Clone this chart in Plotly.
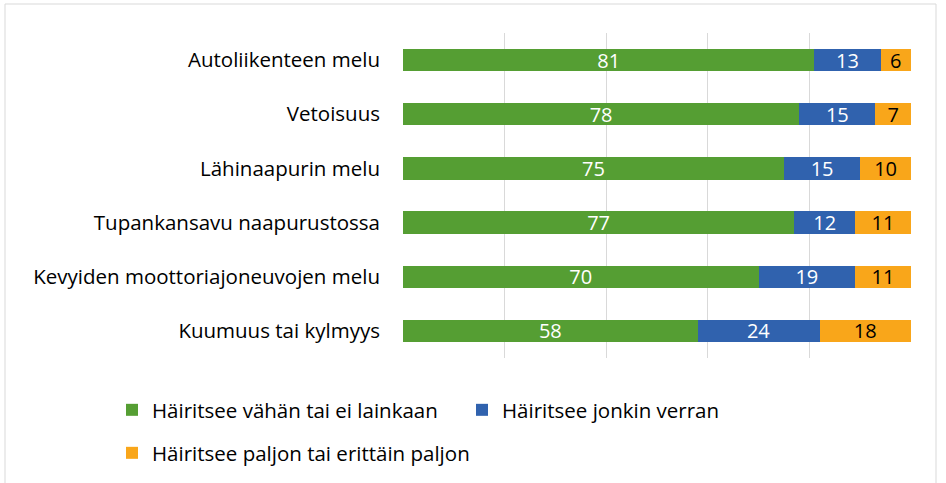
import plotly.graph_objects as go

categories = ["Autoliikenteen melu", "Vetoisuus", "Lähinaapurin melu",
              "Tupankansavu naapurustossa", "Kevyiden moottoriajoneuvojen melu",
              "Kuumuus tai kylmyys"]
series_names = ["Häiritsee vähän tai ei lainkaan", "Häiritsee jonkin verran",
                "Häiritsee paljon tai erittäin paljon"]
vahan = [81, 78, 75, 77, 70, 58]
jonkin = [13, 15, 15, 12, 19, 24]
paljon = [6, 7, 10, 11, 11, 18]

colors = ["#559E33", "#3062AE", "#F9A61A"]
text_colors = ["white", "white", "black"]
FONT = "Open Sans"

W, H = 946, 483
L, R, T, B = 403, 911, 33, 358

legend_ids = ["legend", "legend2", "legend3"]
# legend text left edge and vertical centre (pixels)
legend_pos = [(152, 410), (502, 410), (152, 453)]

fig = go.Figure()
for i, (name, vals) in enumerate(zip(series_names, [vahan, jonkin, paljon])):
    fig.add_trace(go.Bar(
        y=categories, x=vals, name=name, orientation="h",
        marker=dict(color=colors[i], line=dict(width=0)),
        text=[str(v) for v in vals], textposition="inside",
        insidetextanchor="middle", textangle=0, constraintext="none",
        textfont=dict(color=text_colors[i], size=20, family=FONT),
        legend=legend_ids[i],
        hoverinfo="x+y+name",
    ))


def px(x):
    return (x - L) / (R - L)


def py(y):
    return (B - y) / (B - T)


fig.add_shape(type="rect", xref="paper", yref="paper",
              x0=px(5), x1=px(936), y0=py(485), y1=py(4),
              line=dict(color="#D9D9D9", width=1), layer="below")

layout_legends = {}
for lid, (lx, ly) in zip(legend_ids, legend_pos):
    layout_legends[lid] = dict(
        orientation="h", xref="container", yref="container",
        x=(lx - 40) / W, y=1 - ly / H, xanchor="left", yanchor="middle",
        font=dict(size=20.5, family=FONT, color="#000000"), itemwidth=30,
        bgcolor="rgba(0,0,0,0)")

fig.update_layout(
    width=W, height=H, barmode="stack", bargap=0.59,
    margin=dict(l=L, r=W - R, t=T, b=H - B, pad=0, autoexpand=False),
    plot_bgcolor="white", paper_bgcolor="white",
    font=dict(family=FONT, size=18, color="#000000"),
    xaxis=dict(range=[0, 100], dtick=20, showticklabels=False,
               showgrid=True, gridcolor="#D9D9D9", gridwidth=1,
               zeroline=False, showline=False, fixedrange=True,
               automargin=False),
    yaxis=dict(autorange="reversed", showgrid=False, zeroline=False,
               ticks="", ticklabelstandoff=22, automargin=False,
               tickfont=dict(size=20.5, family=FONT, color="#000000")),
    showlegend=True,
    **layout_legends,
)

fig.write_html("out.html", config={"displayModeBar": False},
               post_script="document.body.style.margin='0';"
                           "document.body.style.padding='0';")
